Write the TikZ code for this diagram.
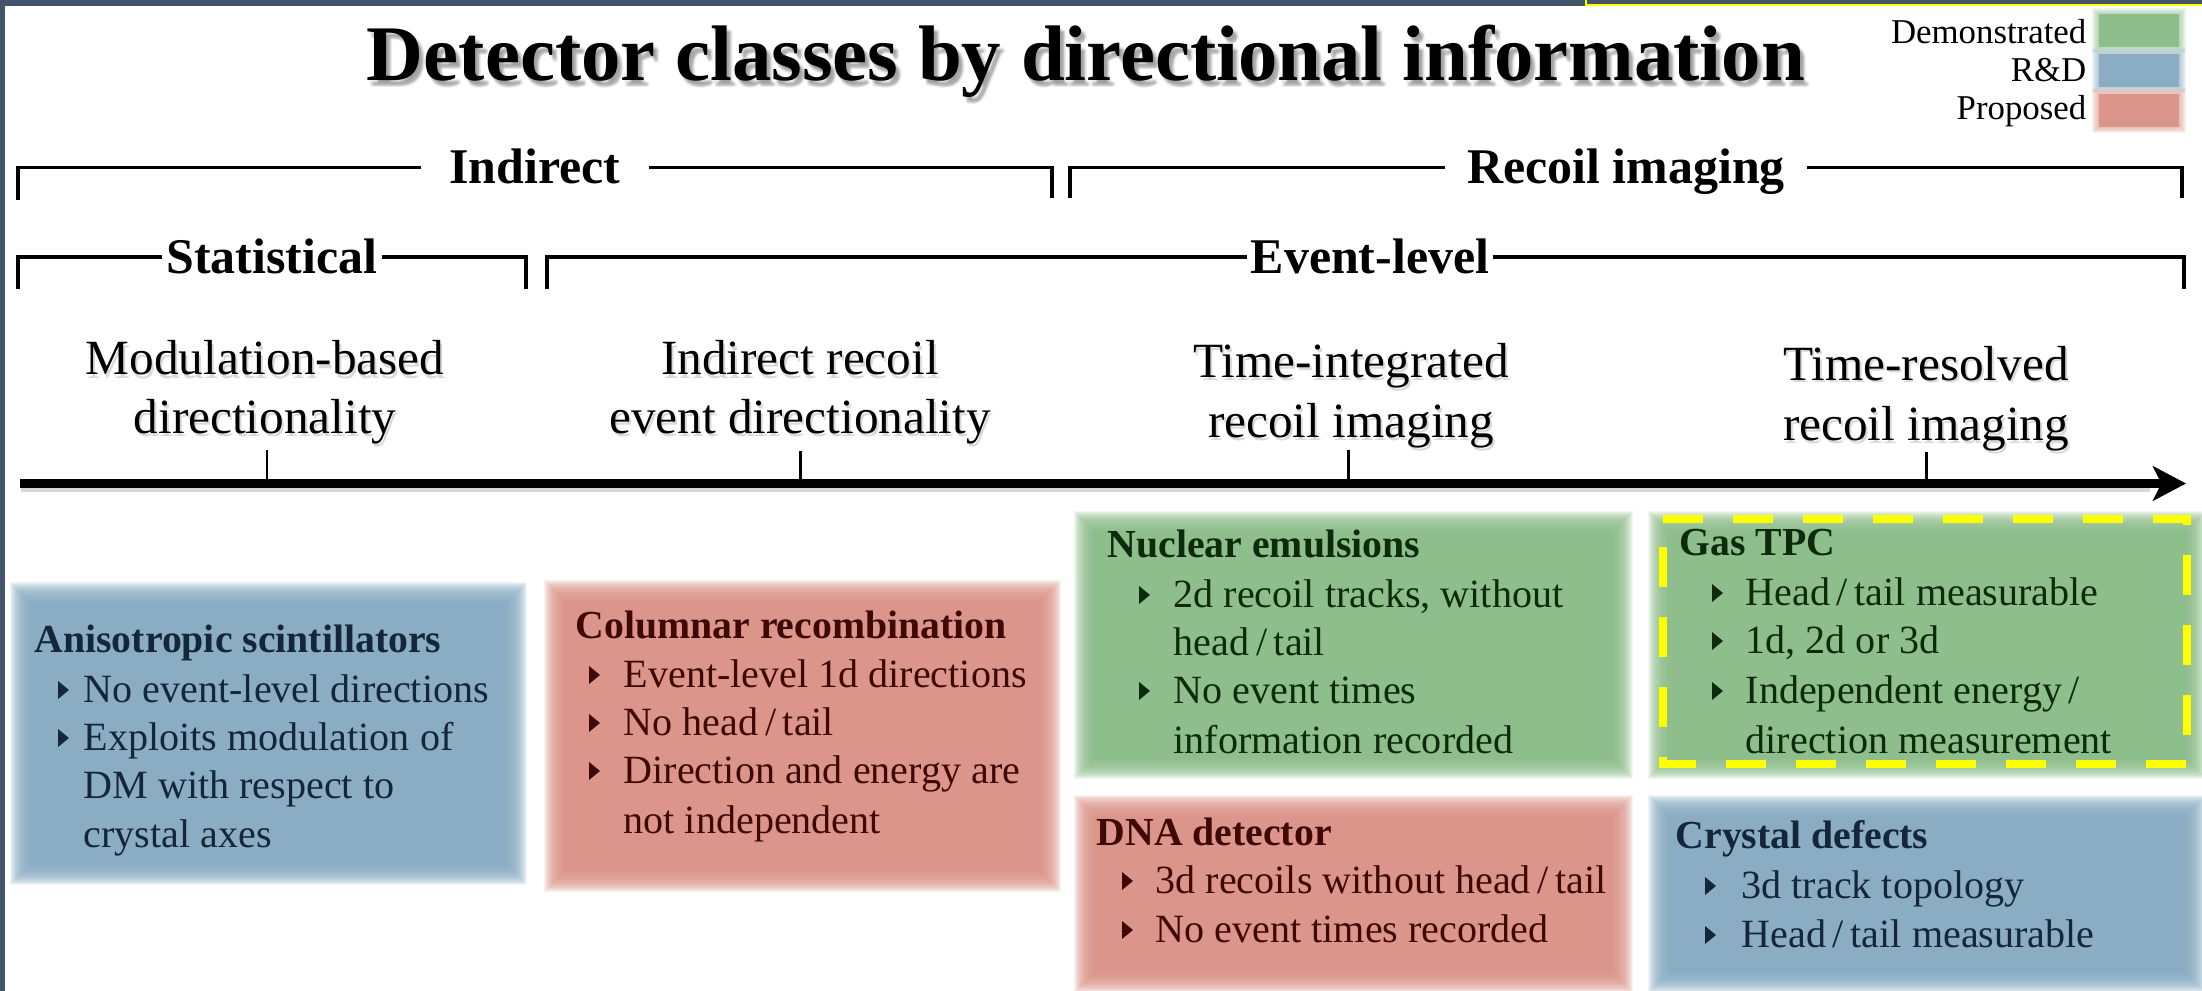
\documentclass[tikz,border=0pt]{standalone}
\usepackage{fontspec}
\setmainfont{Liberation Serif}
\usetikzlibrary{arrows.meta}

\definecolor{frameslate}{HTML}{44546A}
\definecolor{demo}{HTML}{8DBE8B}
\definecolor{rnd}{HTML}{8AADC4}
\definecolor{prop}{HTML}{DC958A}
\definecolor{greentxt}{HTML}{0B2B0B}
\definecolor{bluetxt}{HTML}{13263A}
\definecolor{redtxt}{HTML}{3E0905}
\definecolor{tpcyellow}{HTML}{FFFF00}

% soft-edged coloured panel: x1,y1,x2,y2,colour
\newcommand{\softbox}[5]{%
  \foreach \k in {0,...,19}{%
    \fill[#5, fill opacity=0.12] ({#1+\k},{#2+\k}) rectangle ({#3-\k},{#4-\k});}
  \fill[#5] ({#1+20},{#2+20}) rectangle ({#3-20},{#4-20});}
% small right-pointing bullet: x, baseline y, colour
\newcommand{\btri}[3]{\fill[#3] (#1,{#2-21}) -- (#1,{#2-3}) -- ({#1+11},{#2-12}) -- cycle;}
% text with a faint drop shadow: name, x, y, style, text
\newcommand{\shtext}[5]{%
  \node[#4, text=black, opacity=0.15] at ({#2+2},{#3+3}) {#5};
  \node[#4] (#1) at (#2,#3) {#5};}

\begin{document}
\begin{tikzpicture}[x=0.01cm,y=-0.01cm,
  boxtxt/.style={anchor=base west, inner sep=0pt, font=\fontsize{11.4}{13}\selectfont},
  boxhead/.style={anchor=base west, inner sep=0pt, font=\fontsize{11.3}{13}\selectfont\bfseries},
  cat/.style={anchor=base, inner sep=0pt, font=\fontsize{14}{16}\selectfont},
  brlabel/.style={font=\fontsize{14.2}{16}\selectfont\bfseries, text height=9.2pt, text depth=0pt, inner ysep=0pt},
  bracket/.style={line width=1.1pt},
  tick/.style={line width=0.85pt},
  legtxt/.style={anchor=base east, inner sep=0pt, font=\fontsize{9.9}{11}\selectfont},
  titletxt/.style={anchor=base, inner sep=0pt, font=\fontsize{22.4}{26}\selectfont\bfseries}]

\useasboundingbox (0,0) rectangle (2202,991);
\fill[white] (0,0) rectangle (2202,991);

% slide frame
\fill[frameslate] (0,0) rectangle (2202,6);
\fill[frameslate] (0,0) rectangle (5,991);
\draw[tpcyellow, line width=0.6pt] (1586,0) -- (1586,5) -- (2202,5);

% title with soft shadow
\foreach \dx/\dy in {2/3,4/5,5/4,3/6,6/6,4/7}{
  \node[titletxt, text=black, opacity=0.07] at ({1086+\dx},{81+\dy}) {Detector classes by directional information};}
\node[titletxt] (title) at (1086,81) {Detector classes by directional information};

% legend
\softbox{2092}{8}{2186}{53}{demo}
\softbox{2092}{48}{2186}{93}{rnd}
\softbox{2092}{88}{2186}{133}{prop}
\fill[demo] (2099,14) rectangle (2179,47);
\fill[rnd] (2099,54) rectangle (2179,87);
\fill[prop] (2099,94) rectangle (2179,127);
\node[legtxt] (lg1) at (2087,44) {Demonstrated};
\node[legtxt] (lg2) at (2087,82) {R\&D};
\node[legtxt] (lg3) at (2087,120) {Proposed};

% top-level brackets
\node[brlabel, inner xsep=8pt] (indirect) at (535,167.5) {Indirect};
\draw[bracket] (18,200) -- (18,167.5) -- (indirect.west);
\draw[bracket] (indirect.east) -- (1052,167.5) -- (1052,198);
\node[brlabel, inner xsep=6pt] (recoil) at (1626,167.5) {Recoil imaging};
\draw[bracket] (1070,198) -- (1070,167.5) -- (recoil.west);
\draw[bracket] (recoil.east) -- (2182,167.5) -- (2182,198);

% second-level brackets
\node[brlabel, inner xsep=1pt] (stat) at (272,257) {Statistical};
\draw[bracket] (18,289) -- (18,257) -- (stat.west);
\draw[bracket] (stat.east) -- (526,257) -- (526,289);
\node[brlabel, inner xsep=1pt] (event) at (1370,257) {Event-level};
\draw[bracket] (547,289) -- (547,257) -- (event.west);
\draw[bracket] (event.east) -- (2184,257) -- (2184,289);

% categories along the axis
\shtext{mod1}{265}{375}{cat}{Modulation-based}
\shtext{mod2}{265}{433}{cat}{directionality}
\shtext{ind1}{800}{375}{cat}{Indirect recoil}
\shtext{ind2}{800}{433}{cat}{event directionality}
\shtext{tin1}{1351}{377}{cat}{Time-integrated}
\shtext{tin2}{1351}{437}{cat}{recoil imaging}
\shtext{tre1}{1926}{380}{cat}{Time-resolved}
\shtext{tre2}{1926}{440}{cat}{recoil imaging}

% axis
\draw[line width=3.6pt, black!30, opacity=0.5] (21,486) -- (2150,486);
\draw[line width=2.5pt, -{Stealth[length=9.4pt,width=9.8pt,inset=2.4pt]}] (20,483.5) -- (2186,483.5);
\draw[tick] (267,450) -- (267,483);
\draw[tick] (800,451) -- (800,483);
\draw[tick] (1348,450) -- (1348,483);
\draw[tick] (1926,452) -- (1926,483);

% panels
\softbox{10}{582}{527}{885}{rnd}
\softbox{544}{580}{1061}{892}{prop}
\softbox{1074}{511}{1633}{779}{demo}
\softbox{1648}{511}{2206}{779}{demo}
\softbox{1074}{795}{1633}{993}{prop}
\softbox{1648}{795}{2206}{993}{rnd}

% anisotropic scintillators
\begin{scope}[every node/.append style={text=bluetxt}]
\node[boxhead] (an0) at (34,652) {Anisotropic scintillators};
\btri{58}{702}{bluetxt} \node[boxtxt] (an1) at (83,702) {No event-level directions};
\btri{58}{750}{bluetxt} \node[boxtxt] (an2) at (83,750) {Exploits modulation of};
\node[boxtxt] (an3) at (83,798) {DM with respect to};
\node[boxtxt] (an4) at (83,847) {crystal axes};
\end{scope}

% columnar recombination
\begin{scope}[every node/.append style={text=redtxt}]
\node[boxhead] (co0) at (575,638) {Columnar recombination};
\btri{589}{687}{redtxt} \node[boxtxt] (co1) at (623,687) {Event-level 1d directions};
\btri{589}{735}{redtxt} \node[boxtxt] (co2) at (623,735) {No head\,/\,tail};
\btri{589}{783}{redtxt} \node[boxtxt] (co3) at (623,783) {Direction and energy are};
\node[boxtxt] (co4) at (623,833) {not independent};
\end{scope}

% nuclear emulsions
\begin{scope}[every node/.append style={text=greentxt}]
\node[boxhead] (nu0) at (1107,557) {Nuclear emulsions};
\btri{1139}{607}{greentxt} \node[boxtxt] (nu1) at (1173,607) {2d recoil tracks, without};
\node[boxtxt] (nu2) at (1173,655) {head\,/\,tail};
\btri{1139}{703}{greentxt} \node[boxtxt] (nu3) at (1173,703) {No event times};
\node[boxtxt] (nu4) at (1173,753) {information recorded};
\end{scope}

% gas TPC
\begin{scope}[every node/.append style={text=greentxt}]
\node[boxhead] (gt0) at (1679,555) {Gas TPC};
\btri{1712}{605}{greentxt} \node[boxtxt] (gt1) at (1745,605) {Head\,/\,tail measurable};
\btri{1712}{653}{greentxt} \node[boxtxt] (gt2) at (1745,653) {1d, 2d or 3d};
\btri{1712}{703}{greentxt} \node[boxtxt] (gt3) at (1745,703) {Independent energy\,/};
\node[boxtxt] (gt4) at (1745,753) {direction measurement};
\end{scope}
\draw[tpcyellow, line width=2.3pt, dash pattern=on 11.4pt off 8.5pt]
  (1663,519) -- (2187,519) -- (2187,764) -- (1663,764) -- cycle;

% DNA detector
\begin{scope}[every node/.append style={text=redtxt}]
\node[boxhead] (dn0) at (1096,845) {DNA detector};
\btri{1122}{893}{redtxt} \node[boxtxt] (dn1) at (1155,893) {3d recoils without head\,/\,tail};
\btri{1122}{942}{redtxt} \node[boxtxt] (dn2) at (1155,942) {No event times recorded};
\end{scope}

% crystal defects
\begin{scope}[every node/.append style={text=bluetxt}]
\node[boxhead] (cr0) at (1675,848) {Crystal defects};
\btri{1705}{898}{bluetxt} \node[boxtxt] (cr1) at (1741,898) {3d track topology};
\btri{1705}{947}{bluetxt} \node[boxtxt] (cr2) at (1741,947) {Head\,/\,tail measurable};
\end{scope}

\end{tikzpicture}
\end{document}
